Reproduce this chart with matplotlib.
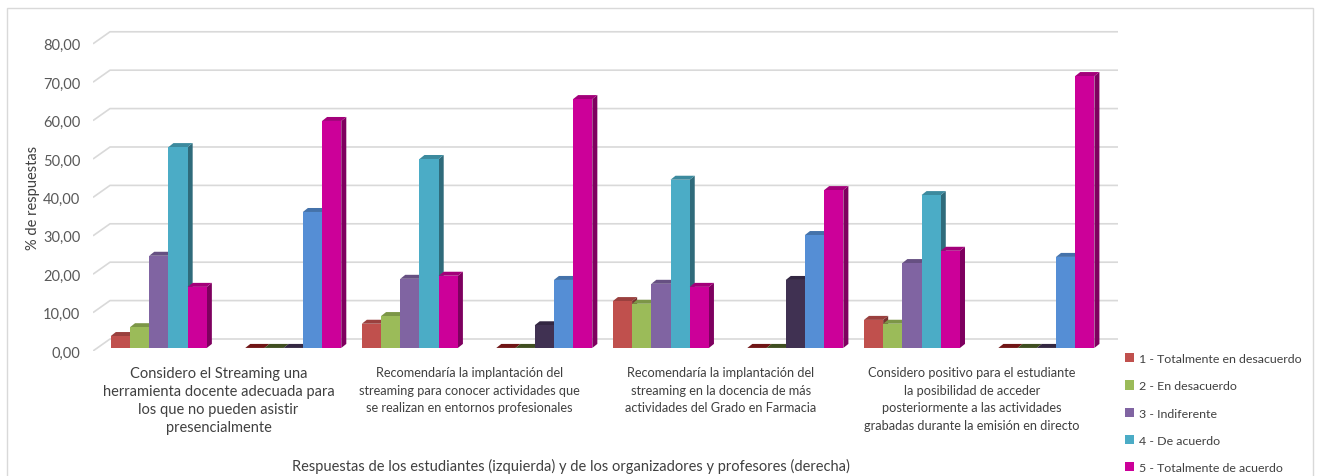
import numpy as np
import matplotlib.pyplot as plt
from matplotlib.patches import Polygon, Patch, Rectangle
from matplotlib.colors import to_rgb

# Data (% de respuestas)
categories = [
    "Considero el Streaming una\nherramienta docente adecuada para\nlos que no pueden asistir\npresencialmente",
    "Recomendaría la implantación del\nstreaming para conocer actividades que\nse realizan en entornos profesionales",
    "Recomendaría la implantación del\nstreaming en la docencia de más\nactividades del Grado en Farmacia",
    "Considero positivo para el estudiante\nla posibilidad de acceder\nposteriormente a las actividades\ngrabadas durante la emisión en directo",
]
levels = ["1 - Totalmente en desacuerdo", "2 - En desacuerdo", "3 - Indiferente",
          "4 - De acuerdo", "5 - Totalmente de acuerdo"]
students = [
    [3.1, 5.4, 24.0, 52.3, 15.9],
    [6.3, 8.3, 18.0, 49.2, 18.8],
    [12.2, 11.5, 16.7, 43.8, 15.9],
    [7.3, 6.3, 22.1, 39.8, 25.3],
]
organizers = [
    [0.0, 0.0, 0.0, 35.4, 59.1],
    [0.0, 0.0, 5.9, 17.7, 64.8],
    [0.0, 0.0, 17.7, 29.4, 41.1],
    [0.0, 0.0, 0.0, 23.7, 70.8],
]
student_colors = ["#C0504D", "#9BBB59", "#8064A2", "#4BACC6", "#CC0099"]
organizer_colors = ["#8C1A1A", "#4F6228", "#403152", "#558ED5", "#CC0099"]

plt.rcParams['font.family'] = ['Lato', 'DejaVu Sans']

fig = plt.figure(figsize=(13.23, 4.77), dpi=100)
ax = fig.add_axes([93 / 1323, 125 / 477, 1025 / 1323, 324.5 / 477])
ax.set_xlim(-0.530, 3.553)
ax.set_ylim(0, 84.5)

# 3D look parameters (data units)
w = 0.0765          # bar width
dx, dy = 0.02, 1.04  # bar depth offset
gx, gy = 0.0677, 3.125  # back wall offset
base = 0.8


def shade(c, f):
    r, g, b = to_rgb(c)
    return (r * f, g * f, b * f)


# gridlines on back wall with diagonal on the left
x0, x1 = ax.get_xlim()
for v in range(0, 81, 10):
    ax.plot([x0, x0 + gx, x1], [v, v + gy, v + gy], color="#D9D9D9", lw=1.2, zorder=1,
            solid_capstyle='butt')

z = 2
for i in range(len(categories)):
    for grp, vals, cols, k0 in [(0, students[i], student_colors, 0),
                                (1, organizers[i], organizer_colors, 7)]:
        for j, v in enumerate(vals):
            xc = i + (k0 + j - 5.5) * w
            xl, xr = xc - w / 2, xc + w / 2
            top = base + v
            c = cols[j]
            side = Polygon([(xr, base), (xr + dx, base + dy), (xr + dx, top + dy), (xr, top)],
                           closed=True, facecolor=shade(c, 0.62), edgecolor='none', zorder=z)
            lid = Polygon([(xl, top), (xl + dx, top + dy), (xr + dx, top + dy), (xr, top)],
                          closed=True, facecolor=shade(c, 0.8), edgecolor='none', zorder=z)
            ax.add_patch(side)
            ax.add_patch(lid)
            if v > 0:
                ax.bar(xc, v, width=w, bottom=base, color=c, linewidth=0, zorder=z + 0.5)
            z += 1

ax.set_yticks(range(0, 81, 10))
ax.set_yticklabels([f"{v},00" for v in range(0, 81, 10)], fontsize=10.5, color="#595959")
ax.tick_params(axis='y', length=0, pad=9)
ax.set_xticks([])
for s in ax.spines.values():
    s.set_visible(False)

for i, lab in enumerate(categories):
    fs = 10.5 if i == 0 else 9.2
    ax.text(i - 0.03, -4.0, lab, ha='center', va='top', fontsize=fs,
            color="#404040", linespacing=1.35 * 10.5 / fs)

fig.text(33 / 1323, 1 - 198 / 477, "% de respuestas", rotation=90, ha='center', va='center',
         fontsize=10.5, color="#404040")
fig.text(571 / 1323, 1 - 466 / 477,
         "Respuestas de los estudiantes (izquierda) y de los organizadores y profesores (derecha)",
         ha='center', va='center', fontsize=10.5, color="#404040")

handles = [Patch(facecolor=c, edgecolor='none') for c in student_colors]
fig.legend(handles, levels, loc='upper left', bbox_to_anchor=(1125 / 1323, 1 - 354 / 477),
           frameon=False, fontsize=8.9, handlelength=0.75, handleheight=0.75, handletextpad=0.4,
           labelspacing=1.32, labelcolor="#404040", borderpad=0, borderaxespad=0)

fig.patches.append(Rectangle((7 / 1323, -0.05), 1306 / 1323, 1 - 9 / 477 + 0.05,
                             transform=fig.transFigure, fill=False, edgecolor="#D9D9D9", lw=1))

fig.savefig("out.png", dpi=100)
